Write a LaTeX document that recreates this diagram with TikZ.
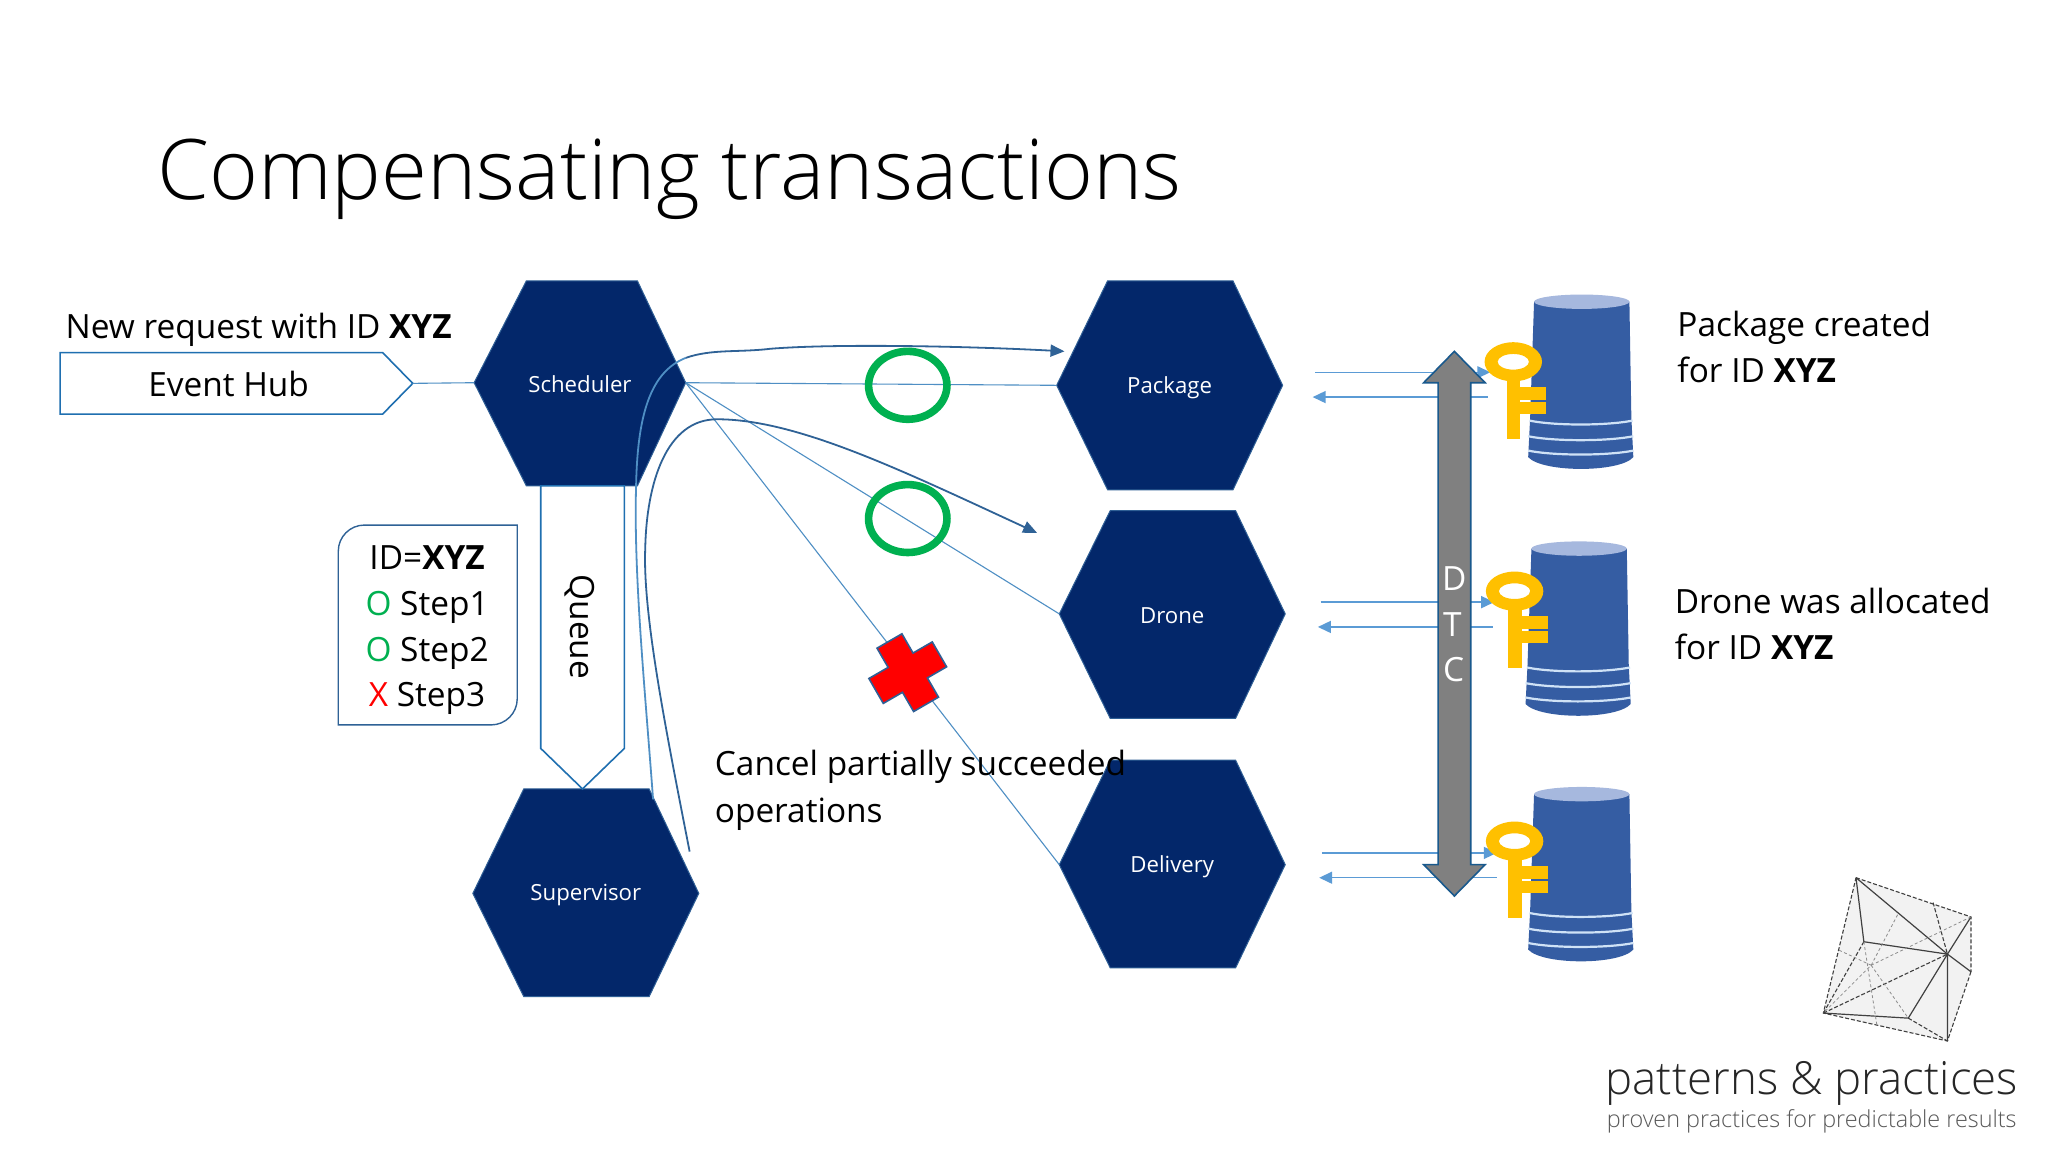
\documentclass[tikz,border=0pt]{standalone}
\usepackage{fontspec}
\setmainfont{Open Sans}
\newfontfamily\lightfont{Open Sans Light}
\usetikzlibrary{arrows.meta,calc}
\definecolor{navy}{HTML}{03276A}
\definecolor{navyedge}{HTML}{2F5F95}
\definecolor{shapeblue}{HTML}{1F6FB0}
\definecolor{thinblue}{HTML}{4F8FC4}
\definecolor{curveblue}{HTML}{2F6296}
\definecolor{arrowblue}{HTML}{5B9BD5}
\definecolor{okgreen}{HTML}{00B050}
\definecolor{keygold}{HTML}{FFC000}
\definecolor{dbblue}{HTML}{355DA3}
\definecolor{dbtop}{HTML}{A6B8DE}
\definecolor{dbband}{HTML}{CFE2F6}
\tikzset{
  hexfill/.style={fill=navy,draw=navyedge,line width=0.5pt},
  hexlabel/.style={text=white,font=\fontsize{11.1}{13}\selectfont,inner sep=0pt},
  thinline/.style={draw=thinblue,line width=0.55pt},
  curve/.style={draw=curveblue,line width=0.9pt},
  curvetip/.style={curve,-{Triangle[length=7pt,width=6pt]}},
  smallarrow/.style={draw=arrowblue,line width=0.75pt,-{Triangle[length=6.5pt,width=6pt]}},
  body/.style={font=\fontsize{16.7}{20}\selectfont,text=black,inner sep=0pt,anchor=base west},
  ring/.style={draw=okgreen,line width=3.8pt},
  logoline/.style={draw=black!75,line width=0.6pt},
  logodash/.style={draw=black!75,line width=0.55pt,dash pattern=on 2pt off 1pt},
  logofaint/.style={draw=black!45,line width=0.4pt,dash pattern=on 1.5pt off 1.2pt},
}
\newcommand{\hexa}[9]{%
  % name, left, topleft, topright, right, top, mid, bottom, label
  \path[hexfill] (#2,#7) -- (#3,#6) -- (#4,#6) -- (#5,#7) -- (#4,#8) -- (#3,#8) -- cycle;
  \coordinate (#1-w) at (#2,#7);
  \coordinate (#1-e) at (#5,#7);
  \node[hexlabel] (#1) at ({(#2+#5)/2},{#7+1.5}) {#9};
}
\newcommand{\dbstack}[3]{%
  % name, dx, dy
  \begin{scope}[shift={(#2,#3)}]
    \fill[dbblue] (1174.5,231) -- (1247.5,231) -- (1249,320) -- (1250.5,350)
       .. controls (1240,362) and (1181,362) .. (1170,350) -- (1171.5,320) -- cycle;
    \fill[dbtop] (1211,231) ellipse (36.5 and 5.5);
    \draw[dbband,line width=1.1pt] (1171,322) .. controls (1190,326) and (1230,326) .. (1250,322);
    \draw[dbband,line width=1.1pt] (1170,334) .. controls (1190,338) and (1230,338) .. (1250.5,334);
    \draw[dbband,line width=1.1pt] (1170,345) .. controls (1190,349) and (1230,349) .. (1250.5,345);
    \coordinate (#1) at (1211,292);
  \end{scope}
}
\newcommand{\dbkey}[2]{%
  \begin{scope}[shift={(#1,#2)}]
    \fill[keygold,even odd rule] (1158.6,277) ellipse (22 and 15) (1158.6,277) ellipse (12 and 6);
    \fill[keygold] (1153.6,290) rectangle (1164,336);
    \fill[keygold] (1164,296.3) rectangle (1184,306);
    \fill[keygold] (1164,307.6) rectangle (1184,317);
  \end{scope}
}
\begin{document}
\begin{tikzpicture}[x=0.65306pt,y=-0.65306pt]
\useasboundingbox (0,0) rectangle (1568,882);
\fill[white] (0,0) rectangle (1568,882);

% title
\node[inner sep=0pt,anchor=base west,font=\lightfont\fontsize{41.8}{48}\selectfont,text=black] (title) at (120,153) {Compensating transactions};

% event hub
\path[draw=shapeblue,line width=0.8pt,fill=white] (46,270) -- (293,270) -- (316,293.5) -- (293,317) -- (46,317) -- cycle;
\coordinate (hub-e) at (316,293.5);
\node[body,anchor=center] (hub) at (175,294) {Event Hub};
\node[body] (newreq) at (50,259) {New request with ID \textbf{XYZ}};

% hexagons
\hexa{sched}{363}{403}{488}{525}{215}{293}{372}{Scheduler}
\hexa{superv}{362}{401}{497}{535}{604}{684}{763}{Supervisor}
\hexa{pkg}{809}{848}{944}{982}{215}{295}{375}{Package}
\hexa{drone}{811}{850}{946}{984}{391}{470}{550}{Drone}
\hexa{deliv}{811}{850}{946}{984}{582}{662}{741}{Delivery}

% thin connectors
\draw[thinline] (hub-e) -- (sched-w);
\draw[thinline] (sched-e) -- (pkg-w);
\draw[thinline] (sched-e) -- (drone-w);
\draw[thinline] (sched-e) -- (deliv-w);

% queue
\path[draw=shapeblue,line width=0.8pt,fill=white] (414,372) -- (478,372) -- (478,573) -- (446,604) -- (414,573) -- cycle;
\node[body,anchor=center,rotate=-90] (queue) at (444,480) {Queue};

% curved connectors
\coordinate (c1s) at (500,612);
\coordinate (c1t) at (815,269);
\coordinate (c2s) at (528,652);
\coordinate (c2t) at (794,408);
\draw[curve,draw=thinblue] (c1s) .. controls (494,530) and (485,440) .. (487,372) .. controls (488,320) and (497,285) .. (525,274);
\draw[curvetip] (525,274) .. controls (545,267) and (565,270) .. (590,267) .. controls (640,263) and (740,265) .. (c1t);
\draw[curvetip] (c2s) .. controls (510,560) and (492,470) .. (494,420) .. controls (495,370) and (510,321) .. (549,321) .. controls (610,321) and (690,360) .. (c2t);

% id box
\path[draw=curveblue,line width=0.7pt,fill=white,rounded corners=0pt]
  (279,402) -- (396,402) -- (396,535) arc[start angle=0,end angle=90,radius=20] -- (259,555) -- (259,422) arc[start angle=180,end angle=270,radius=20] -- cycle;
\node[body,anchor=center] (idt) at (327,427) {ID=\textbf{XYZ}};
\node[body,anchor=center] (s1) at (327,465) {\textcolor{okgreen}{O} Step1};
\node[body,anchor=center] (s2) at (327,500) {\textcolor{okgreen}{O} Step2};
\node[body,anchor=center] (s3) at (327,535) {\textcolor{red}{X} Step3};

% status marks
\draw[ring] (695,295) ellipse (30 and 26);
\draw[ring] (695,397) ellipse (30 and 26);
\begin{scope}[shift={(695,515)},rotate=30]
  \path[fill=red,draw=navyedge,line width=0.8pt]
   (-11,-28) -- (11,-28) -- (11,-11) -- (28,-11) -- (28,11) -- (11,11) -- (11,28) -- (-11,28) -- (-11,11) -- (-28,11) -- (-28,-11) -- (-11,-11) -- cycle;
\end{scope}

% cancel text
\node[body] (cancel1) at (547,594) {Cancel partially succeeded};
\node[body] (cancel2) at (547,630) {operations};

% small arrows
\coordinate (a1l) at (1007,285); \coordinate (a1r) at (1141,285);
\coordinate (b1r) at (1139,304); \coordinate (b1l) at (1005,304);
\coordinate (a2l) at (1011,461); \coordinate (a2r) at (1144,461);
\coordinate (b2r) at (1143,480); \coordinate (b2l) at (1009,480);
\coordinate (a3l) at (1012,653); \coordinate (a3r) at (1146,653);
\coordinate (b3r) at (1146,672); \coordinate (b3l) at (1010,672);
\draw[smallarrow] (a1l) -- (a1r);
\draw[smallarrow] (b1r) -- (b1l);
\draw[smallarrow] (a2l) -- (a2r);
\draw[smallarrow] (b2r) -- (b2l);
\draw[smallarrow] (a3l) -- (a3r);
\draw[smallarrow] (b3r) -- (b3l);

% DTC double arrow
\path[fill=black!50,draw=shapeblue!80!black,line width=0.8pt]
  (1113.5,269) -- (1137,293) -- (1126,293) -- (1126,662) -- (1137,662) -- (1113.5,686) -- (1090,662) -- (1101,662) -- (1101,293) -- (1090,293) -- cycle;
\node[body,anchor=center,text=white] (dtcd) at (1113.5,443) {D};
\node[body,anchor=center,text=white] (dtct) at (1112,478) {T};
\node[body,anchor=center,text=white] (dtcc) at (1113,513) {C};

% databases and keys
\dbstack{db1}{0}{0}
\dbstack{db2}{-2}{189}
\dbstack{db3}{0}{377}
\dbkey{0}{0}
\dbkey{1}{175.6}
\dbkey{1}{367}

% notes
\node[body] (n1) at (1284,258) {Package created};
\node[body] (n2) at (1284,293) {for ID \textbf{XYZ}};
\node[body] (n3) at (1282,470) {Drone was allocated};
\node[body] (n4) at (1282,505) {for ID \textbf{XYZ}};

% logo
\coordinate (la) at (1421,672); \coordinate (lb) at (1509,702);
\coordinate (lc) at (1509,744); \coordinate (ld) at (1491,797);
\coordinate (le) at (1396,775.6); \coordinate (lf) at (1491,730.5);
\coordinate (lg) at (1427,721); \coordinate (lh) at (1461,779.5);
\coordinate (li) at (1432.6,739); \coordinate (lj) at (1480,691);
\coordinate (lk) at (1407,727); \coordinate (lm) at (1453,700);
\fill[black!5] (la) -- (lb) -- (lc) -- (ld) -- (le) -- cycle;
\draw[logodash] (la) -- (lb) -- (lc);
\draw[logodash] (lc) -- (ld) -- (le) -- (la);
\draw[logoline] (la) -- (lf) -- (ld);
\draw[logoline] (la) -- (lg) -- (lf);
\draw[logodash] (le) -- (lf);
\draw[logoline] (lb) -- (lf) -- (lc);
\draw[logoline] (lf) -- (lh);
\draw[logoline] (le) -- (lh);
\draw[logodash] (lh) -- (ld);
\draw[logodash] (lg) -- (le);
\draw[logodash] (lj) -- (lf);
\draw[logofaint] (lb) -- (li) -- (le);
\draw[logofaint] (li) -- (lh);
\draw[logofaint] (li) -- (lk);
\draw[logofaint] (li) -- (lm);
\draw[logofaint] (lg) -- (1437,785);
\node[inner sep=0pt,anchor=base west,font=\lightfont\fontsize{22.8}{26}\selectfont,text=black!85] (pp) at (1229,838) {patterns \& practices};
\node[inner sep=0pt,anchor=base west,font=\lightfont\fontsize{11.7}{14}\selectfont,text=black!65] (pps) at (1230,863) {proven practices for predictable results};
\end{tikzpicture}
\end{document}
